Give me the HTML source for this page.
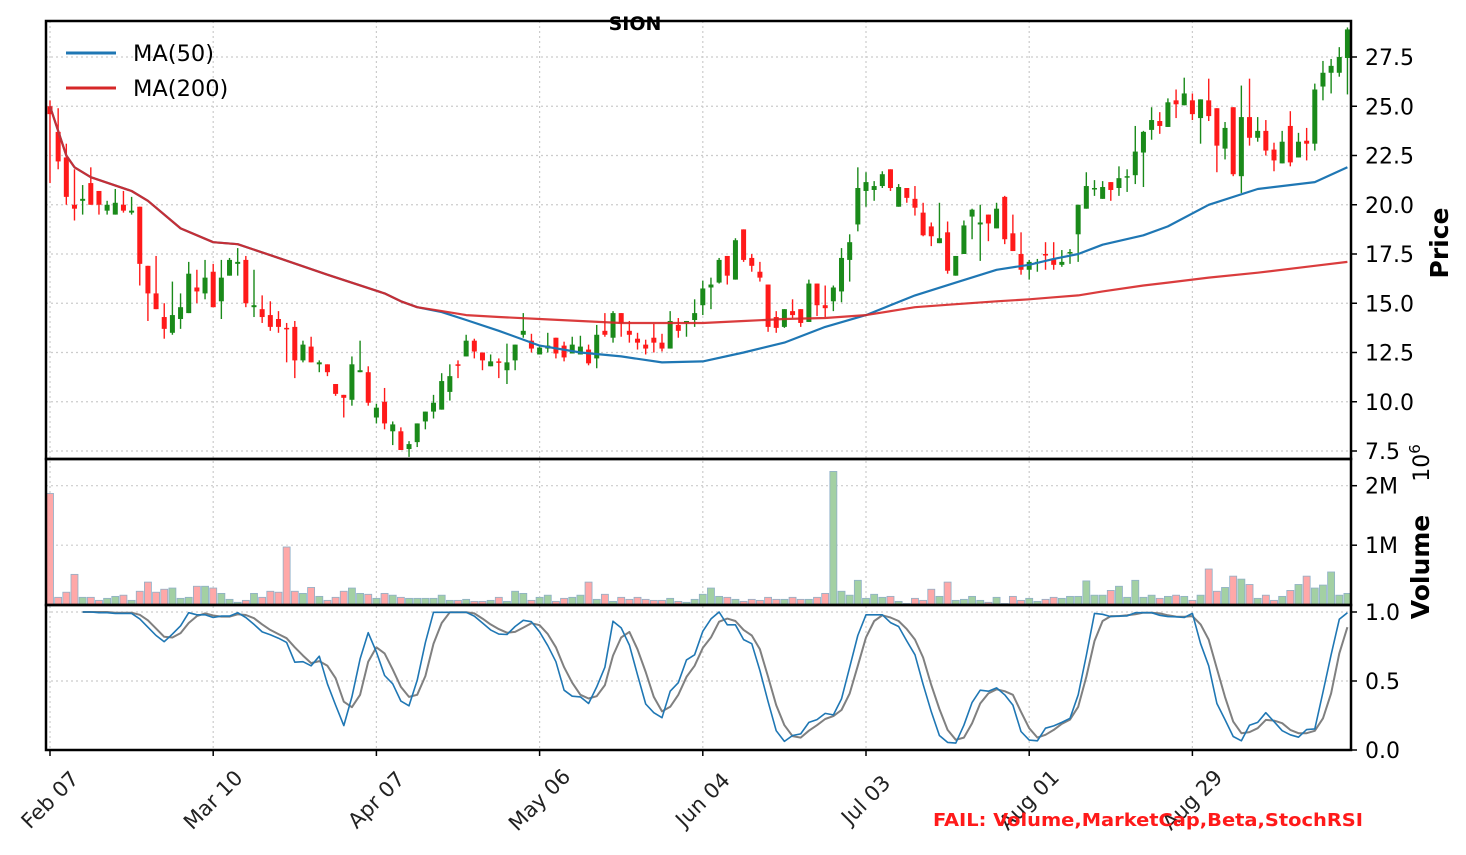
<!DOCTYPE html>
<html><head><meta charset="utf-8"><style>
html,body{margin:0;padding:0;background:#fff;}
svg{display:block;font-family:"DejaVu Sans","Liberation Sans",sans-serif;}
</style></head><body>
<svg id="chart" width="1466" height="855" viewBox="0 0 1466 855" xmlns="http://www.w3.org/2000/svg">
<rect width="1466" height="855" fill="#fff"/>
<g id="grid"></g>
<g id="volume"></g>
<g id="candles"></g>
<g id="ma"></g>
<g id="stoch"></g>
<g id="frames">
<rect x="46" y="21" width="1305" height="438" fill="none" stroke="#000" stroke-width="2.5"/>
<rect x="46" y="459" width="1305" height="146" fill="none" stroke="#000" stroke-width="2.5"/>
<rect x="46" y="605" width="1305" height="145" fill="none" stroke="#000" stroke-width="2.5"/>
</g>
<g id="axes"></g>
<text x="635" y="30" text-anchor="middle" font-size="19" font-weight="bold">SION</text>
<g>
<line x1="66" y1="53" x2="116" y2="53" stroke="#1f77b4" stroke-width="3"/>
<text x="133" y="61" font-size="22.5">MA(50)</text>
<line x1="66" y1="88" x2="116" y2="88" stroke="#d62728" stroke-width="3"/>
<text x="133" y="96" font-size="22.5">MA(200)</text>
</g>
<text transform="translate(1448,243) rotate(-90)" text-anchor="middle" font-size="25" font-weight="bold">Price</text>
<text transform="translate(1429,567) rotate(-90)" text-anchor="middle" font-size="25" font-weight="bold">Volume</text>
<text transform="translate(1429,463) rotate(-90)" text-anchor="middle" font-size="22">10<tspan font-size="15" dy="-9">6</tspan></text>
<text x="933" y="826" font-size="18" font-weight="bold" fill="#ff1a1a" textLength="430" lengthAdjust="spacingAndGlyphs">FAIL: Volume,MarketCap,Beta,StochRSI</text>
</svg>
<script>
const xTickIdx=[0,20,40,60,80,100,120,140];
const xTickLabels=["Feb 07","Mar 10","Apr 07","May 06","Jun 04","Jul 03","Aug 01","Aug 29"];
const priceTicks=[7.5,10,12.5,15,17.5,20,22.5,25,27.5];
const volTicks=[1,2];
const volTickLabels=["1M","2M"];
const stochTicks=[0,0.5,1];
const openP=[25.0,23.7,22.4,20.0,20.2,21.1,20.7,19.7,19.5,20.0,19.6,19.9,16.9,15.5,14.3,13.5,14.2,14.5,15.8,15.5,16.6,15.1,16.4,17.0,17.2,14.8,14.7,14.4,14.2,13.75,13.8,12.1,12.8,11.9,11.9,10.9,10.35,10.1,11.5,11.5,9.2,10.0,8.5,8.5,7.6,7.95,9.0,9.5,9.6,10.5,11.9,12.3,13.1,12.5,11.8,12.05,11.6,12.1,13.4,13.1,12.4,12.7,13.25,12.85,12.45,12.4,12.65,12.2,13.6,13.25,14.5,13.6,13.2,12.9,13.25,13.0,12.7,13.9,14.0,14.15,14.9,15.8,16.05,17.4,16.2,18.75,17.3,16.6,15.95,14.3,13.8,14.6,14.7,14.05,16.0,14.9,15.1,15.6,17.2,19.0,20.7,20.75,20.95,21.8,19.9,20.85,20.3,19.6,18.9,18.05,18.6,16.4,17.5,19.4,19.0,19.5,18.8,20.4,18.55,17.5,16.7,17.05,17.5,17.25,16.95,17.55,18.5,19.8,20.8,20.3,21.15,20.85,21.4,21.5,22.65,23.8,24.25,23.95,25.3,25.05,25.3,24.4,25.3,24.9,22.85,24.95,21.45,24.45,23.4,23.75,22.8,22.1,24.0,22.4,23.25,23.1,26.0,26.7,26.7,27.45];
const closeP=[24.6,22.2,20.4,19.8,20.3,20.0,20.0,20.0,20.1,19.7,19.7,17.0,15.5,14.7,13.7,14.4,14.8,16.5,15.6,16.3,14.8,16.3,17.2,17.1,15.0,14.9,14.3,13.8,13.8,13.7,12.1,12.9,12.0,12.0,11.5,10.4,10.2,11.9,11.6,9.95,9.7,8.9,8.85,7.55,7.85,8.9,9.5,9.95,11.05,11.3,11.85,13.1,12.55,12.1,12.05,12.0,12.0,12.9,13.6,12.7,12.75,12.85,12.45,12.25,12.9,12.8,11.95,13.4,13.4,14.5,14.0,13.4,13.0,12.7,13.0,12.7,14.1,13.6,14.1,14.5,15.75,15.95,17.2,16.4,18.2,17.2,16.9,16.3,13.8,13.75,14.7,14.4,14.0,16.0,14.9,14.75,15.8,17.3,18.1,20.85,21.15,20.95,21.55,20.85,20.9,20.35,19.85,18.45,18.4,18.3,16.65,17.4,18.95,19.75,19.1,19.05,19.8,18.25,17.65,16.7,17.1,17.1,17.45,16.95,17.1,17.6,20.0,20.95,20.85,20.9,20.75,21.35,21.45,22.7,23.7,24.3,24.0,25.2,25.1,25.65,24.6,25.35,24.5,23.0,23.9,21.55,24.45,23.4,23.75,22.75,22.25,23.2,22.15,23.2,23.1,25.85,26.7,27.05,27.5,28.9];
const highP=[25.3,24.9,23.1,21.8,21.0,21.9,20.7,20.2,20.8,20.7,20.4,19.9,16.9,17.4,15.0,16.1,15.5,17.1,16.7,17.2,17.0,17.2,17.3,17.8,17.4,16.7,15.4,15.1,14.6,14.0,14.1,13.1,13.3,12.1,11.9,10.9,10.35,12.3,13.1,11.8,9.9,10.7,9.0,8.7,8.0,8.9,9.5,10.35,11.45,11.9,12.1,13.4,13.2,12.5,12.4,12.2,12.95,12.9,14.5,13.45,12.9,13.5,13.25,13.05,13.3,13.35,12.9,13.9,14.5,14.6,14.5,14.1,13.5,13.15,13.95,13.45,14.6,14.25,14.1,15.2,16.15,16.3,17.3,17.4,18.3,18.75,17.5,17.1,15.95,14.6,14.7,15.2,14.7,16.2,16.0,15.9,15.9,17.8,18.5,21.9,21.65,21.2,21.7,21.8,21.05,20.85,20.95,20.1,19.1,20.1,19.15,17.4,19.2,19.8,20.0,19.5,20.1,20.45,19.5,18.6,17.2,17.25,18.1,18.1,17.7,17.75,20.0,21.65,21.25,21.2,21.15,21.95,21.8,24.0,23.75,24.95,24.7,25.4,25.85,26.45,25.65,25.35,26.4,24.9,24.2,24.95,26.05,26.4,24.45,24.3,23.15,23.75,24.75,23.65,23.9,26.15,27.3,27.4,28.0,29.0];
const lowP=[21.1,21.8,20.0,19.2,19.5,20.0,19.5,19.5,19.5,19.6,19.5,15.9,14.1,14.7,13.2,13.4,13.7,14.5,15.0,15.2,14.8,14.2,16.4,16.4,14.8,14.3,14.0,13.6,13.5,12.0,11.2,12.0,12.0,11.5,11.3,10.3,9.2,9.8,11.5,9.8,8.9,8.6,7.8,7.55,7.2,7.7,8.6,9.15,9.6,10.06,11.2,12.3,12.2,11.6,11.8,11.2,10.9,11.6,13.25,12.5,12.4,12.5,12.2,12.05,12.45,12.4,11.85,11.7,13.3,13.0,13.3,13.0,12.65,12.4,12.5,12.55,12.7,13.25,13.3,13.8,14.4,14.7,16.0,15.95,16.2,17.1,16.6,16.1,13.55,13.5,13.75,14.25,13.8,14.05,14.35,14.3,14.6,15.05,16.1,18.65,19.9,20.2,20.85,20.7,19.9,20.1,19.45,18.4,17.9,18.05,16.5,16.4,17.5,18.25,17.15,18.15,18.8,18.0,17.65,16.45,16.2,16.6,16.7,16.7,16.85,17.0,17.1,19.8,20.45,20.3,20.2,20.45,20.65,21.05,20.9,23.3,23.6,23.95,24.4,25.05,24.3,23.1,24.25,21.65,22.3,21.45,20.6,23.0,23.2,22.5,21.7,22.1,21.95,22.4,22.25,22.75,25.3,25.65,26.5,25.6];
const volumeM=[1.87,0.124,0.21,0.51,0.124,0.124,0.073,0.107,0.14,0.16,0.073,0.226,0.38,0.21,0.26,0.28,0.107,0.124,0.31,0.31,0.28,0.19,0.09,0.04,0.073,0.19,0.124,0.226,0.21,0.97,0.226,0.19,0.29,0.14,0.073,0.124,0.226,0.28,0.19,0.175,0.107,0.19,0.16,0.124,0.107,0.107,0.107,0.107,0.16,0.073,0.073,0.09,0.056,0.056,0.073,0.124,0.056,0.226,0.19,0.073,0.124,0.16,0.056,0.107,0.124,0.16,0.38,0.09,0.175,0.056,0.124,0.09,0.124,0.09,0.073,0.073,0.107,0.056,0.04,0.09,0.175,0.28,0.14,0.124,0.09,0.056,0.09,0.073,0.124,0.09,0.09,0.124,0.09,0.09,0.124,0.19,2.24,0.226,0.16,0.41,0.107,0.175,0.124,0.14,0.056,0.02,0.107,0.073,0.26,0.14,0.38,0.073,0.09,0.14,0.073,0.04,0.124,0.02,0.14,0.073,0.107,0.056,0.09,0.124,0.107,0.14,0.14,0.40,0.16,0.16,0.24,0.31,0.124,0.41,0.124,0.16,0.107,0.14,0.16,0.14,0.073,0.16,0.60,0.226,0.29,0.48,0.43,0.34,0.107,0.16,0.073,0.14,0.24,0.34,0.48,0.28,0.33,0.55,0.16,0.19];
const maIdx=[0,2,3,5,10,12,16,20,23,28,34,41,43,45,48,51,55,60,65,70,75,80,85,90,95,100,106,111,116,120,123,126,129,134,137,142,148,155,159];
const ma200=[25.0,22.5,21.9,21.4,20.7,20.2,18.8,18.1,18.0,17.3,16.45,15.5,15.1,14.8,14.6,14.4,14.3,14.2,14.1,14.0,14.0,14.0,14.1,14.2,14.25,14.4,14.8,14.95,15.1,15.2,15.3,15.4,15.6,15.9,16.05,16.3,16.55,16.9,17.1];
const ma50=[25.0,22.5,21.9,21.4,20.7,20.2,18.8,18.1,18.0,17.3,16.45,15.5,15.1,14.8,14.55,14.15,13.6,12.85,12.5,12.3,12.0,12.05,12.5,13.0,13.8,14.4,15.4,16.05,16.7,16.95,17.25,17.5,17.97,18.45,18.9,20.0,20.8,21.15,21.9];
const stochK=[null,null,null,null,1.0,1.0,0.995,0.995,0.99,0.99,0.99,0.95,0.89,0.83,0.785,0.84,0.90,0.995,0.98,0.98,0.96,0.97,0.97,0.995,0.96,0.91,0.856,0.835,0.81,0.78,0.636,0.64,0.61,0.68,0.48,0.325,0.177,0.385,0.66,0.85,0.71,0.54,0.48,0.354,0.32,0.505,0.78,0.998,0.998,0.998,0.998,0.998,0.97,0.92,0.87,0.84,0.837,0.895,0.94,0.93,0.856,0.756,0.64,0.433,0.39,0.385,0.337,0.457,0.60,0.933,0.885,0.76,0.545,0.333,0.27,0.234,0.426,0.488,0.653,0.69,0.86,0.95,1.0,0.907,0.907,0.80,0.77,0.576,0.35,0.14,0.062,0.105,0.117,0.20,0.22,0.265,0.254,0.37,0.60,0.83,0.98,0.98,0.98,0.923,0.895,0.79,0.69,0.476,0.277,0.105,0.055,0.05,0.18,0.345,0.433,0.426,0.45,0.40,0.325,0.134,0.072,0.067,0.158,0.175,0.20,0.23,0.40,0.684,0.99,0.983,0.967,0.97,0.972,0.995,0.995,0.995,0.976,0.967,0.965,0.96,0.99,0.77,0.61,0.337,0.22,0.098,0.067,0.18,0.20,0.27,0.206,0.14,0.11,0.093,0.148,0.153,0.42,0.69,0.947,0.995];
const stochD=[null,null,null,null,1.0,1.0,1.0,1.0,0.995,0.995,0.995,0.98,0.94,0.88,0.82,0.815,0.847,0.92,0.97,0.99,0.975,0.967,0.967,0.983,0.978,0.955,0.91,0.87,0.84,0.81,0.744,0.684,0.63,0.644,0.61,0.52,0.35,0.31,0.40,0.64,0.744,0.70,0.584,0.457,0.385,0.40,0.536,0.77,0.92,0.998,0.998,0.998,0.99,0.952,0.91,0.876,0.85,0.856,0.887,0.919,0.904,0.84,0.744,0.60,0.488,0.40,0.373,0.39,0.47,0.684,0.816,0.856,0.73,0.565,0.385,0.28,0.313,0.40,0.53,0.61,0.74,0.816,0.93,0.952,0.935,0.87,0.83,0.73,0.53,0.325,0.18,0.10,0.09,0.14,0.18,0.225,0.246,0.29,0.41,0.61,0.816,0.935,0.976,0.96,0.935,0.876,0.80,0.67,0.47,0.297,0.146,0.074,0.09,0.194,0.337,0.41,0.44,0.426,0.40,0.277,0.158,0.09,0.11,0.146,0.19,0.22,0.313,0.53,0.79,0.935,0.97,0.97,0.976,0.983,0.995,0.995,0.99,0.976,0.967,0.965,0.97,0.91,0.80,0.59,0.385,0.206,0.122,0.13,0.158,0.218,0.213,0.194,0.146,0.122,0.122,0.139,0.23,0.41,0.70,0.89];

const NS="http://www.w3.org/2000/svg";
const xS=i=>50+i*8.16;
const yP=p=>451-(p-7.5)*19.7;
const yV=v=>604.7-v*59.5;
const yS=s=>750-s*138;
function mk(tag,attrs,parent){const e=document.createElementNS(NS,tag);for(const k in attrs)e.setAttribute(k,attrs[k]);parent.appendChild(e);return e;}
const grid=document.getElementById('grid'),axes=document.getElementById('axes');
const gs={stroke:"#cccccc","stroke-width":1.2,"stroke-dasharray":"2,3"};
xTickIdx.forEach((ix,k)=>{
  const x=xS(ix);
  const g=mk('line',Object.assign({x1:x,y1:21,x2:x,y2:750},gs),grid);
  
  
  const t=mk('line',{x1:x,y1:750,x2:x,y2:756,stroke:"#000","stroke-width":1.5},axes);
  
  
  const lb=mk('text',{x:x,y:800,"text-anchor":"middle","dominant-baseline":"central","font-size":21,fill:"#222",transform:`rotate(-45 ${x} 800)`},axes);
  lb.textContent=xTickLabels[k];
  
  
});
function yTick(y,label,name){
  const g=mk('line',Object.assign({x1:46,y1:y,x2:1351,y2:y},gs),grid);
  
  
  const t=mk('line',{x1:1351,y1:y,x2:1357,y2:y,stroke:"#000","stroke-width":1.5},axes);
  
  
  const lb=mk('text',{x:1365,y:y+8,"font-size":22,fill:"#000"},axes);
  lb.textContent=label;
  
  
}
priceTicks.forEach(p=>yTick(yP(p),p.toFixed(1),'price-tick-label'));
volTicks.forEach((v,k)=>yTick(yV(v),volTickLabels[k],'volume-tick-label'));
stochTicks.forEach(s=>yTick(yS(s),s.toFixed(1),'stoch-tick-label'));

const vg=document.getElementById('volume');
volumeM.forEach((v,i)=>{
  const up=closeP[i]>=openP[i];
  const r=mk('rect',{x:xS(i)-3.5,y:yV(v),width:7,height:604.7-yV(v),fill:up?"#a3d0a3":"#ffa8a8",stroke:"#8fb0c8","stroke-width":0.8},vg);
  
  
});
const cg=document.getElementById('candles');
openP.forEach((o,i)=>{
  const c=closeP[i],up=c>=o,col=up?"#1a8a1a":"#ff1a1a",x=xS(i);
  const w=mk('line',{x1:x,y1:yP(highP[i]),x2:x,y2:yP(lowP[i]),stroke:col,"stroke-width":1.4},cg);
  
  
  const top=yP(Math.max(o,c)),bot=yP(Math.min(o,c));
  const b=mk('rect',{x:x-2.5,y:top,width:5,height:Math.max(bot-top,1.5),fill:col},cg);
  
  
});
const mg=document.getElementById('ma');
function poly(idx,vals,yf,col,w,g,name,op){
  const pts=[];vals.forEach((v,k)=>{if(v!==null)pts.push(xS(idx[k]).toFixed(1)+","+yf(v).toFixed(1));});
  const p=mk('polyline',{points:pts.join(" "),fill:"none",stroke:col,"stroke-width":w,"stroke-linejoin":"round","stroke-opacity":op},g);
  
  
}
poly(maIdx,ma50,yP,"#1f77b4",2.2,mg,'ma50-line',1);
poly(maIdx,ma200,yP,"#d62728",2.2,mg,'ma200-line',0.9);
const sg=document.getElementById('stoch');
const allIdx=stochK.map((_,i)=>i);
poly(allIdx,stochD,yS,"#808080",2,sg,'stoch-d-line',1);
poly(allIdx,stochK,yS,"#1f77b4",1.6,sg,'stoch-k-line',1);
</script>
</body></html>
